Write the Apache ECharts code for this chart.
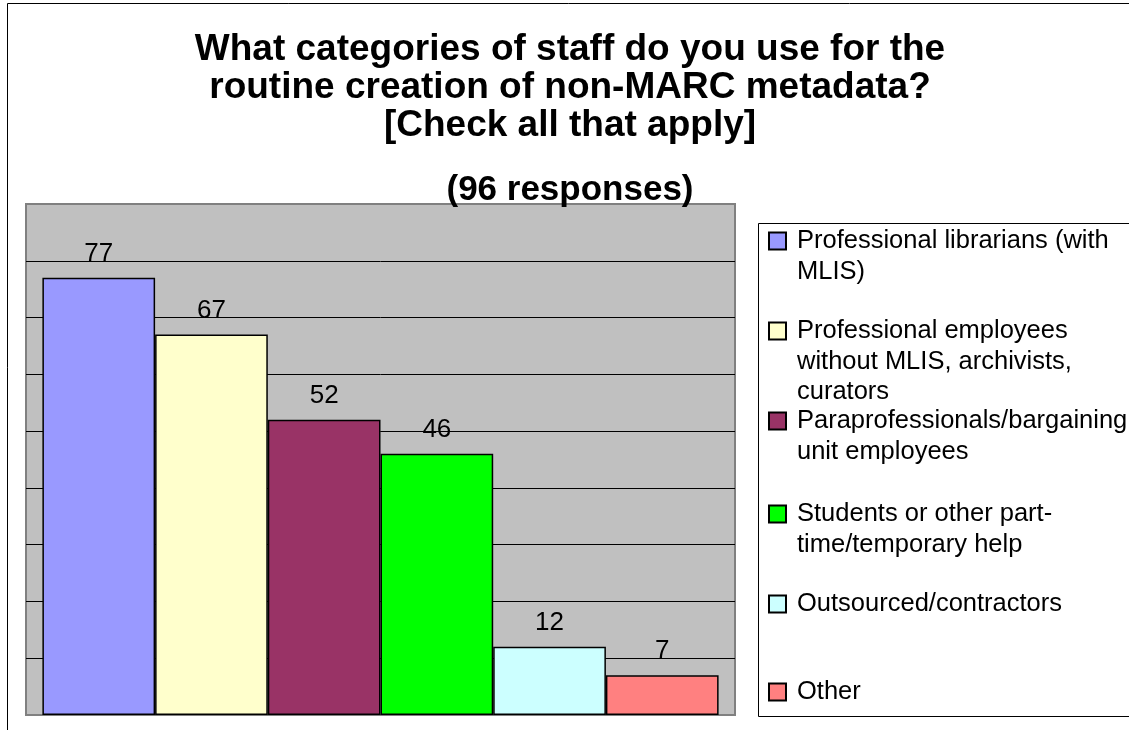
<!DOCTYPE html>
<html>
<head>
<meta charset="utf-8">
<script src="https://cdn.jsdelivr.net/npm/echarts@6/dist/echarts.min.js"></script>
<style>
  html, body { margin: 0; padding: 0; background: #fff; }
  #chart { width: 1129px; height: 730px; }
</style>
</head>
<body>
<div id="chart"></div>
<script>
// Survey answers: staff categories used for routine non-MARC metadata creation
const categories = [
  'Professional librarians (with MLIS)',
  'Professional employees without MLIS, archivists, curators',
  'Paraprofessionals/bargaining unit employees',
  'Students or other part-time/temporary help',
  'Outsourced/contractors',
  'Other'
];
const responses = [77, 67, 52, 46, 12, 7];

// How each legend entry wraps onto lines
const legendLines = [
  ['Professional librarians (with', 'MLIS)'],
  ['Professional employees', 'without MLIS, archivists,', 'curators'],
  ['Paraprofessionals/bargaining', 'unit employees'],
  ['Students or other part-', 'time/temporary help'],
  ['Outsourced/contractors'],
  ['Other']
];

const titleLines = [
  'What categories of staff do you use for the',
  'routine creation of non-MARC metadata?',
  '[Check all that apply]'
];
const subtitle = '(96 responses)';

// Styling and layout
const barColors = ['#9999FF', '#FFFFCC', '#993366', '#00FF00', '#CCFFFF', '#FF8080'];
const legendIconCenters = [241, 331, 421, 514, 604, 692];
const FONT = '"Liberation Sans", Arial, sans-serif';
const LEGEND_LH = 30.5;
const ICON = 17;

const chart = echarts.init(document.getElementById('chart'), null, { renderer: 'canvas' });

const series = categories.map((name, i) => ({
  name: name,
  type: 'bar',
  data: [responses[i]],
  barWidth: 112.7,
  barGap: '0%',
  itemStyle: { color: barColors[i], borderColor: '#000', borderWidth: 1.5 },
  label: {
    show: true,
    position: 'top',
    distance: 11,
    color: '#000',
    fontFamily: FONT,
    fontSize: 26
  },
  emphasis: { disabled: true }
}));

// One legend block per entry; the icon sits beside the first text line,
// so blank lines are placed ahead of the text to keep that line centred on it.
const legends = categories.map((name, i) => {
  const lines = legendLines[i];
  const n = lines.length;
  const blockH = (2 * n - 1) * LEGEND_LH;
  const text = new Array(n - 1).fill(' ').concat(lines).join('\n');
  return {
    orient: 'vertical',
    left: 768,
    top: legendIconCenters[i] - Math.max(ICON / 2, blockH / 2),
    padding: 0,
    itemWidth: ICON,
    itemHeight: ICON,
    icon: 'rect',
    selectedMode: false,
    data: [name],
    formatter: () => text,
    textStyle: {
      fontFamily: FONT,
      fontSize: 25.5,
      color: '#000',
      lineHeight: LEGEND_LH,
      padding: [0, 0, 0, 6]
    }
  };
});

chart.setOption({
  animation: false,
  backgroundColor: '#ffffff',
  grid: {
    left: 26,
    right: 394,
    top: 204,
    bottom: 15,
    show: true,
    backgroundColor: '#C0C0C0',
    borderColor: '#808080',
    borderWidth: 2
  },
  xAxis: {
    type: 'category',
    data: [''],
    axisLine: { show: false },
    axisTick: { show: false },
    axisLabel: { show: false }
  },
  yAxis: {
    type: 'value',
    min: 0,
    max: 90,
    interval: 10,
    axisLine: { show: false },
    axisTick: { show: false },
    axisLabel: { show: false },
    splitLine: {
      show: true,
      showMinLine: false,
      showMaxLine: false,
      lineStyle: { color: '#000', width: 1 }
    }
  },
  legend: legends,
  graphic: [
    {
      type: 'rect',
      z: -10,
      shape: { x: 7.5, y: 3.5, width: 1200, height: 800 },
      style: { fill: null, stroke: '#000', lineWidth: 1 },
      silent: true
    },
    {
      type: 'rect',
      z: -5,
      shape: { x: 758.5, y: 223.5, width: 500, height: 493 },
      style: { fill: '#fff', stroke: '#000', lineWidth: 1 },
      silent: true
    },
    {
      type: 'text',
      x: 570,
      y: 31,
      style: {
        text: titleLines.join('\n'),
        fill: '#000',
        font: 'bold 37px ' + FONT,
        lineHeight: 38,
        align: 'center',
        verticalAlign: 'top'
      },
      silent: true
    },
    {
      type: 'text',
      x: 570,
      y: 190,
      style: {
        text: subtitle,
        fill: '#000',
        font: 'bold 35px ' + FONT,
        align: 'center',
        verticalAlign: 'middle'
      },
      silent: true
    }
  ],
  series: series
});
</script>
</body>
</html>
